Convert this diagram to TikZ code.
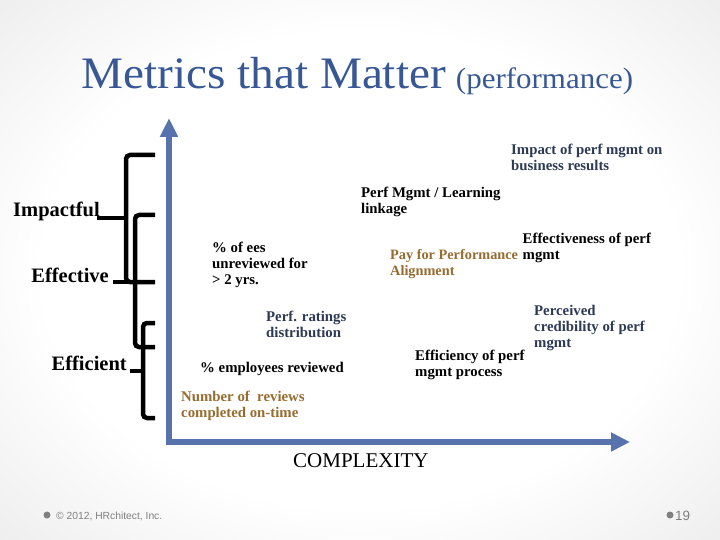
\documentclass[tikz,border=0pt]{standalone}
\usepackage{fontspec}
\setmainfont{Liberation Serif}
\setsansfont{Liberation Sans}
\newfontfamily\titlefont[FakeStretch=1.05]{Liberation Serif}
\usetikzlibrary{arrows.meta}
\definecolor{axisblue}{RGB}{88,114,174}
\definecolor{titleblue}{RGB}{55,88,148}
\definecolor{slate}{RGB}{45,58,85}
\definecolor{brownlbl}{RGB}{150,108,48}
\definecolor{footgray}{RGB}{128,128,128}
\definecolor{bgedge}{RGB}{220,220,220}
\definecolor{bgcorner}{RGB}{200,200,200}
\pgfdeclareradialshading{bgshade}{\pgfpoint{0bp}{0bp}}{color(0bp)=(white);color(22bp)=(white);color(50bp)=(bgedge);color(72bp)=(bgcorner)}
\begin{document}
\begin{tikzpicture}[x=1pt,y=-1pt,
  lbl/.style={font=\fontsize{14.8}{16}\selectfont\bfseries, align=left, inner sep=0pt, anchor=base west},
  side/.style={font=\fontsize{20.5}{22}\selectfont\bfseries, inner sep=0pt, anchor=base east},
  axis/.style={line width=6pt, draw=axisblue},
  brace/.style={line width=4.5pt, draw=black, rounded corners=4pt},
  bullet/.style={circle, fill=footgray, inner sep=0pt, minimum size=7pt}]
\useasboundingbox (0,0) rectangle (720,540);
\shade[shading=bgshade] (0,0) rectangle (720,540);

% title
\node[anchor=base west, inner sep=0pt, text=titleblue] (title) at (81,89)
  {{\titlefont\fontsize{45}{48}\selectfont Metrics that Matter}\hspace{10pt}{\titlefont\fontsize{29.5}{31}\selectfont (performance)}};

% axes
\coordinate (vb) at (169,445);
\coordinate (vt) at (169,118);
\coordinate (hl) at (166,442);
\coordinate (hr) at (630,442);
\draw[axis, -{Triangle[length=19pt,width=17pt]}] (vb) -- (vt);
\draw[axis, -{Triangle[length=19pt,width=18pt]}] (hl) -- (hr);

% braces
\draw[brace] (155,155) -- (126,155) -- (126,282) -- (155,282);
\draw[brace] (126,218) -- (97,218);
\draw[brace] (155,215) -- (135,215) -- (135,347) -- (155,347);
\draw[brace] (135,282) -- (113,282);
\draw[brace] (155,323) -- (143,323) -- (143,418) -- (155,418);
\draw[brace] (143,371) -- (130,371);

% side labels
\node[side] (impactful) at (100,217) {Impactful};
\node[side] (effective) at (109,282) {Effective};
\node[side] (efficient) at (127,370) {Efficient};

% metric labels (anchor = baseline of last line)
\node[lbl, text=slate] (impact) at (511,171) {Impact of perf mgmt on\\business results};
\node[lbl] (learning) at (361,214) {Perf Mgmt / Learning\\linkage};
\node[lbl] (effness) at (522.5,259.5) {Effectiveness of perf\\mgmt};
\node[lbl, text=brownlbl, font=\fontsize{14.3}{16}\selectfont\bfseries] (pay) at (390,275) {Pay for Performance\\Alignment};
\node[lbl] (ees) at (212,284) {\% of ees\\unreviewed for\\> 2 yrs.};
\node[lbl, text=slate] (ratings) at (266,337.5) {Perf. ratings\\distribution};
\node[lbl] (emprev) at (200,372) {\% employees reviewed};
\node[lbl] (effproc) at (415,376) {Efficiency of perf\\mgmt process};
\node[lbl, text=slate] (percv) at (534,347) {Perceived\\credibility of perf\\mgmt};
\node[lbl, text=brownlbl] (number) at (181,417) {Number of\ \ reviews\\completed on-time};

\node[anchor=base west, inner sep=0pt, font=\fontsize{21}{23}\selectfont] (cx) at (293,467) {COMPLEXITY};

% footer
\node[bullet] (b1) at (47,515) {};
\node[anchor=base west, inner sep=0pt, text=footgray, font=\sffamily\fontsize{10.3}{12}\selectfont] (copy) at (56,519) {© 2012, HRchitect, Inc.};
\node[bullet] (b2) at (670,515) {};
\node[anchor=base west, inner sep=0pt, text=footgray, font=\sffamily\fontsize{13.5}{15}\selectfont] (page) at (675,520) {19};
\end{tikzpicture}
\end{document}
